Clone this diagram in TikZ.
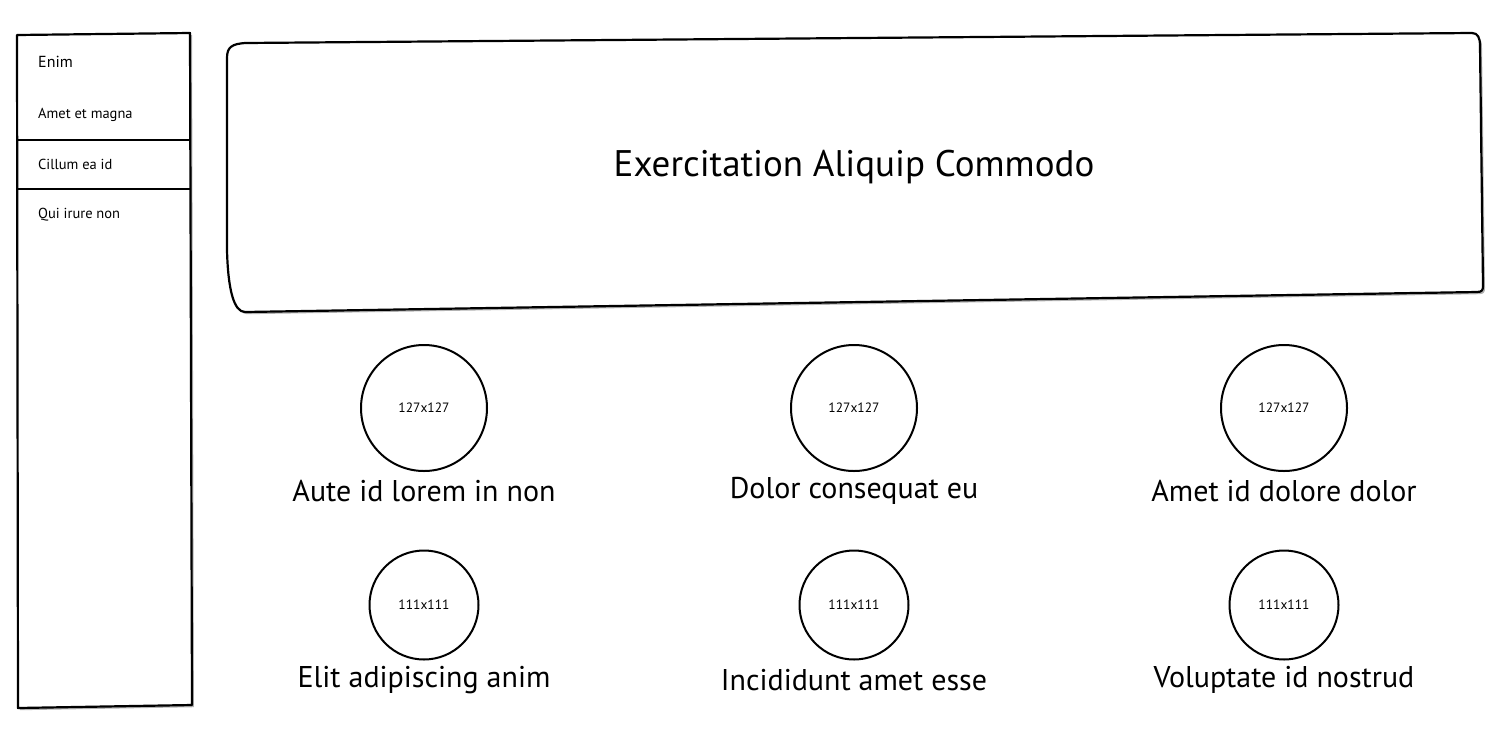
\documentclass[tikz,border=0pt]{standalone}
\usepackage{fontspec}
\setmainfont{PT Sans}
\usetikzlibrary{shadows}
\tikzset{
  frame/.style={draw=black, line width=2.2pt, fill=white, line join=round,
    drop shadow={shadow xshift=2pt, shadow yshift=-2.2pt, opacity=0.3, fill=black}},
  sep/.style={draw=black, line width=2pt},
  navbig/.style={anchor=west, inner sep=0pt, font=\fontsize{16}{19}\selectfont},
  navitem/.style={anchor=west, inner sep=0pt, font=\fontsize{14.5}{17}\selectfont},
  title/.style={inner sep=0pt, font=\fontsize{37}{44}\selectfont},
  pic/.style={circle, draw=black, line width=2pt, fill=white, inner sep=0pt,
    font=\fontsize{13.5}{15}\selectfont},
  caption/.style={inner sep=0pt, font=\fontsize{30}{35}\selectfont}
}
\begin{document}
\begin{tikzpicture}[x=1pt, y=-1pt]
\useasboundingbox (0,0) rectangle (1500,740);
% sidebar
\path[frame] (17,35) -- (190,33) -- (192,705) -- (18,708) -- cycle;
\draw[sep] (17,140) -- (191,140);
\draw[sep] (17,189) -- (191,189);
\node[navbig]  (n1) at (38,62)  {Enim};
\node[navitem] (n2) at (38,115) {Amet et magna};
\node[navitem] (n3) at (38,164) {Cillum ea id};
\node[navitem] (n4) at (38,215) {Qui irure non};
% header
\path[frame] (227,58) .. controls (227,47) and (232,44) .. (245,43)
  -- (1472,33) .. controls (1478,33) and (1480,38) .. (1480,46)
  -- (1483,286) .. controls (1483,290) and (1482,292) .. (1477,292)
  -- (245,312) .. controls (234,312) and (228,290) .. (227,250) -- cycle;
\node[title] (head) at (854,167) {Exercitation Aliquip Commodo};
% pictures
\node[pic, minimum size=126pt] (p1) at (424,408) {127x127};
\node[pic, minimum size=126pt] (p2) at (854,408) {127x127};
\node[pic, minimum size=126pt] (p3) at (1284,408) {127x127};
\node[pic, minimum size=109pt] (p4) at (424,605) {111x111};
\node[pic, minimum size=109pt] (p5) at (854,605) {111x111};
\node[pic, minimum size=109pt] (p6) at (1284,605) {111x111};
\node[caption] (c1) at (424,491) {Aute id lorem in non};
\node[caption] (c2) at (854,491) {Dolor consequat eu};
\node[caption] (c3) at (1284,491) {Amet id dolore dolor};
\node[caption] (c4) at (424,680) {Elit adipiscing anim};
\node[caption] (c5) at (854,680) {Incididunt amet esse};
\node[caption] (c6) at (1284,680) {Voluptate id nostrud};
\end{tikzpicture}
\end{document}
